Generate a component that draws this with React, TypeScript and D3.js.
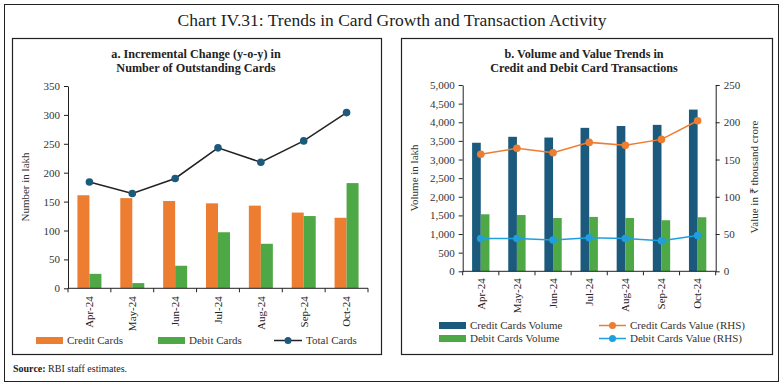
import React, { useEffect, useRef } from 'react';
import * as d3 from 'd3';

const months = ['Apr-24', 'May-24', 'Jun-24', 'Jul-24', 'Aug-24', 'Sep-24', 'Oct-24'];

// panel a (lakh)
const creditCards = [161, 156, 151, 147, 143, 131, 122];
const debitCards = [25, 9, 39, 97, 77, 125, 182];
const totalCards = [184, 164, 190, 243, 218, 255, 304];
const leftTicks = [0, 50, 100, 150, 200, 250, 300, 350];

// panel b
const creditVolume = [3450, 3610, 3590, 3850, 3900, 3930, 4340];
const debitVolume = [1530, 1510, 1430, 1460, 1430, 1370, 1450];
const creditValue = [157, 165, 159, 173, 169, 177, 202];
const debitValue = [44, 44, 42, 45, 44, 41, 48];
const volTicks = [0, 500, 1000, 1500, 2000, 2500, 3000, 3500, 4000, 4500, 5000];
const valTicks = [0, 50, 100, 150, 200, 250];

const ORANGE = '#ED7D31';
const GREEN = '#4EA845';
const NAVY = '#1C5A7D';
const SKY = '#1FA0DC';
const FONT = '"Liberation Serif", serif';

const App = () => {
  const svgRef = useRef<SVGSVGElement>(null);

  useEffect(() => {
    const svg = d3.select(svgRef.current);
    svg.selectAll('*').remove();
    svg.style('font-family', FONT);

    // frames
    svg.append('rect').attr('x', 4.5).attr('y', 4.5).attr('width', 774).attr('height', 377)
      .attr('fill', 'none').attr('stroke', '#222').attr('stroke-width', 1);
    svg.append('rect').attr('x', 12.5).attr('y', 38.5).attr('width', 369).attr('height', 316)
      .attr('fill', 'none').attr('stroke', '#222').attr('stroke-width', 1.2);
    svg.append('rect').attr('x', 401.5).attr('y', 38.5).attr('width', 371).attr('height', 316)
      .attr('fill', 'none').attr('stroke', '#222').attr('stroke-width', 1.2);

    svg.append('text').attr('x', 392).attr('y', 26).attr('text-anchor', 'middle')
      .attr('font-size', 17.5).attr('fill', '#222')
      .text('Chart IV.31: Trends in Card Growth and Transaction Activity');

    const src = svg.append('text').attr('x', 13).attr('y', 372).attr('font-size', 10).attr('fill', '#222');
    src.append('tspan').attr('font-weight', 'bold').text('Source:');
    src.append('tspan').text(' RBI staff estimates.');

    // helpers
    const bottomAxis = (g: any, x: d3.ScaleBand<string>, y0: number, labelGap: number) => {
      const [a, b] = x.range();
      g.append('line').attr('x1', a).attr('x2', b).attr('y1', y0).attr('y2', y0)
        .attr('stroke', '#222').attr('stroke-width', 1);
      const edges = months.map(m => x(m) as number).concat([b]);
      g.selectAll('.xt').data(edges).enter().append('line')
        .attr('x1', d => d).attr('x2', d => d).attr('y1', y0).attr('y2', y0 + 4)
        .attr('stroke', '#222');
      g.selectAll('.xl').data(months).enter().append('text')
        .attr('transform', d => `translate(${(x(d) as number) + x.bandwidth() / 2},${y0 + labelGap}) rotate(-90)`)
        .attr('text-anchor', 'end').attr('dy', '0.35em').attr('font-size', 11).attr('fill', '#222')
        .text(d => d);
    };

    const styleAxis = (g: any) => {
      g.select('.domain').attr('stroke', '#222');
      g.selectAll('.tick line').attr('stroke', '#222');
      g.selectAll('.tick text').attr('font-size', 11).attr('fill', '#333').style('font-family', FONT);
    };

    // ---------- panel a ----------
    const xa = d3.scaleBand<string>().domain(months).range([68, 368]);
    const xaIn = d3.scaleBand<string>().domain(['c', 'd'])
      .range([xa.bandwidth() * 0.22, xa.bandwidth() * 0.78]);
    const ya = d3.scaleLinear().domain([0, 350]).range([288.3, 86]);

    const ga = svg.append('g');
    ga.append('text').attr('x', 196).attr('y', 58).attr('text-anchor', 'middle')
      .attr('font-size', 12.2).attr('font-weight', 'bold').attr('fill', '#222')
      .text('a. Incremental Change (y-o-y) in');
    ga.append('text').attr('x', 196).attr('y', 72).attr('text-anchor', 'middle')
      .attr('font-size', 12.2).attr('font-weight', 'bold').attr('fill', '#222')
      .text('Number of Outstanding Cards');

    ga.selectAll('.cb').data(creditCards).enter().append('rect')
      .attr('x', (d, i) => (xa(months[i]) as number) + (xaIn('c') as number))
      .attr('width', xaIn.bandwidth())
      .attr('y', d => ya(d)).attr('height', d => ya(0) - ya(d)).attr('fill', ORANGE);
    ga.selectAll('.db').data(debitCards).enter().append('rect')
      .attr('x', (d, i) => (xa(months[i]) as number) + (xaIn('d') as number))
      .attr('width', xaIn.bandwidth())
      .attr('y', d => ya(d)).attr('height', d => ya(0) - ya(d)).attr('fill', GREEN);

    const yaAxis = ga.append('g').attr('transform', 'translate(68,0)')
      .call(d3.axisLeft(ya).tickValues(leftTicks).tickSize(4).tickPadding(4).tickSizeOuter(0));
    styleAxis(yaAxis);
    bottomAxis(ga, xa, 288.3, 8);

    const lineA = d3.line<number>()
      .x((d, i) => (xa(months[i]) as number) + xa.bandwidth() / 2).y(d => ya(d));
    ga.append('path').datum(totalCards).attr('d', lineA).attr('fill', 'none')
      .attr('stroke', '#222').attr('stroke-width', 1.5);
    ga.selectAll('.tm').data(totalCards).enter().append('circle')
      .attr('cx', (d, i) => (xa(months[i]) as number) + xa.bandwidth() / 2).attr('cy', d => ya(d))
      .attr('r', 3.8).attr('fill', NAVY);

    ga.append('text').attr('transform', 'translate(29,187) rotate(-90)').attr('text-anchor', 'middle')
      .attr('font-size', 11).attr('fill', '#333').text('Number in lakh');

    // legend a
    const la = ga.append('g');
    la.append('rect').attr('x', 36).attr('y', 337).attr('width', 27).attr('height', 7).attr('fill', ORANGE);
    la.append('text').attr('x', 67).attr('y', 344).attr('font-size', 11).attr('fill', '#333').text('Credit Cards');
    la.append('rect').attr('x', 158).attr('y', 337).attr('width', 27).attr('height', 7).attr('fill', GREEN);
    la.append('text').attr('x', 189).attr('y', 344).attr('font-size', 11).attr('fill', '#333').text('Debit Cards');
    la.append('line').attr('x1', 274).attr('x2', 302).attr('y1', 340.5).attr('y2', 340.5)
      .attr('stroke', '#222').attr('stroke-width', 1.5);
    la.append('circle').attr('cx', 288).attr('cy', 340.5).attr('r', 3.5).attr('fill', NAVY);
    la.append('text').attr('x', 306).attr('y', 344).attr('font-size', 11).attr('fill', '#333').text('Total Cards');

    // ---------- panel b ----------
    const xb = d3.scaleBand<string>().domain(months).range([462.7, 715.7]);
    const xbIn = d3.scaleBand<string>().domain(['c', 'd'])
      .range([xb.bandwidth() * 0.26, xb.bandwidth() * 0.74]);
    const ybL = d3.scaleLinear().domain([0, 5000]).range([271.3, 85]);
    const ybR = d3.scaleLinear().domain([0, 250]).range([271.3, 85]);

    const gb = svg.append('g');
    gb.append('text').attr('x', 584).attr('y', 58).attr('text-anchor', 'middle')
      .attr('font-size', 12.2).attr('font-weight', 'bold').attr('fill', '#222')
      .text('b. Volume and Value Trends in');
    gb.append('text').attr('x', 584).attr('y', 72).attr('text-anchor', 'middle')
      .attr('font-size', 12.2).attr('font-weight', 'bold').attr('fill', '#222')
      .text('Credit and Debit Card Transactions');

    gb.selectAll('.cv').data(creditVolume).enter().append('rect')
      .attr('x', (d, i) => (xb(months[i]) as number) + (xbIn('c') as number))
      .attr('width', xbIn.bandwidth())
      .attr('y', d => ybL(d)).attr('height', d => ybL(0) - ybL(d)).attr('fill', NAVY);
    gb.selectAll('.dv').data(debitVolume).enter().append('rect')
      .attr('x', (d, i) => (xb(months[i]) as number) + (xbIn('d') as number))
      .attr('width', xbIn.bandwidth())
      .attr('y', d => ybL(d)).attr('height', d => ybL(0) - ybL(d)).attr('fill', GREEN);

    const ybLAxis = gb.append('g').attr('transform', 'translate(462.7,0)')
      .call(d3.axisLeft(ybL).tickValues(volTicks).tickSize(4).tickPadding(4).tickSizeOuter(0)
        .tickFormat(d3.format(',')));
    styleAxis(ybLAxis);
    const ybRAxis = gb.append('g').attr('transform', 'translate(715.7,0)')
      .call(d3.axisRight(ybR).tickValues(valTicks).tickSize(4).tickPadding(4).tickSizeOuter(0));
    styleAxis(ybRAxis);
    bottomAxis(gb, xb, 271.3, 7);

    const cx = (i: number) => (xb(months[i]) as number) + xb.bandwidth() / 2;
    const lineB = d3.line<number>().x((d, i) => cx(i)).y(d => ybR(d));
    [[creditValue, ORANGE], [debitValue, SKY]].forEach(([vals, col]: any) => {
      gb.append('path').datum(vals).attr('d', lineB).attr('fill', 'none')
        .attr('stroke', col).attr('stroke-width', 1.5);
      gb.selectAll(null).data(vals).enter().append('circle')
        .attr('cx', (d: number, i: number) => cx(i)).attr('cy', (d: number) => ybR(d))
        .attr('r', 3.8).attr('fill', col);
    });

    gb.append('text').attr('transform', 'translate(418,178) rotate(-90)').attr('text-anchor', 'middle')
      .attr('font-size', 11).attr('fill', '#333').text('Volume in lakh');
    gb.append('text').attr('transform', 'translate(758,177) rotate(-90)').attr('text-anchor', 'middle')
      .attr('font-size', 11).attr('fill', '#333').text('Value in ₹ thousand crore');

    // legend b
    const lb = gb.append('g');
    lb.append('rect').attr('x', 439).attr('y', 322).attr('width', 27).attr('height', 7).attr('fill', NAVY);
    lb.append('text').attr('x', 470).attr('y', 329).attr('font-size', 11).attr('fill', '#333').text('Credit Cards Volume');
    lb.append('rect').attr('x', 439).attr('y', 335).attr('width', 27).attr('height', 7).attr('fill', GREEN);
    lb.append('text').attr('x', 470).attr('y', 342).attr('font-size', 11).attr('fill', '#333').text('Debit Cards Volume');
    [[325.5, ORANGE, 'Credit Cards Value (RHS)'], [338.5, SKY, 'Debit Cards Value (RHS)']].forEach(([yy, col, label]: any) => {
      lb.append('line').attr('x1', 599).attr('x2', 626).attr('y1', yy).attr('y2', yy)
        .attr('stroke', col).attr('stroke-width', 1.5);
      lb.append('circle').attr('cx', 612.5).attr('cy', yy).attr('r', 3.5).attr('fill', col);
      lb.append('text').attr('x', 630).attr('y', yy + 3.5).attr('font-size', 11).attr('fill', '#333').text(label);
    });
  }, []);

  return (
    <svg ref={svgRef} width={783} height={385}
      style={{ position: 'absolute', left: 0, top: 0, background: '#fff' }} />
  );
};

export default App;
